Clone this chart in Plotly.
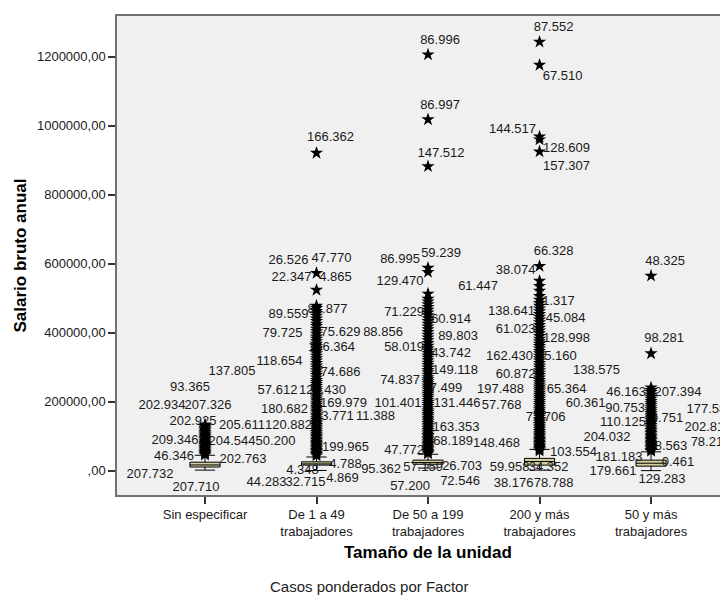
import plotly.graph_objects as go

categories = ["Sin especificar", "De 1 a 49<br>trabajadores", "De 50 a 199<br>trabajadores",
              "200 y más<br>trabajadores", "50 y más<br>trabajadores"]

# box statistics, euros
q1 = [11000, 16500, 19000, 16500, 13500]
median = [17000, 20000, 24000, 27000, 22000]
q3 = [25000, 26000, 31000, 36000, 31000]
lower_whisker = [2000, 1000, 8000, 2000, 500]
upper_whisker = [45000, 40000, 48000, 62000, 55000]

# extreme cases, thousands of euros
extremes_sin = [134, 130, 127, 123, 119, 116, 112, 108, 105, 101, 98, 94, 91, 87, 84, 80, 77, 74,
                70, 67, 64, 61, 58, 55, 52, 49, 46]
extremes_1_49 = [921, 573, 524, 478, 471, 463, 456, 449, 441, 434, 426, 419, 411, 404, 397, 389, 382,
                 375, 368, 361, 354, 347, 340, 333, 326, 319, 312, 305, 298, 291, 284, 277, 270, 263,
                 257, 251, 245, 239, 233, 227, 221, 215, 209, 203, 197, 191, 185, 180, 174, 169, 163,
                 158, 152, 147, 142, 137, 132, 127, 122, 117, 112, 107, 102, 98, 93, 89, 84, 80, 76,
                 72, 68, 64, 60, 56, 52, 48, 44]
extremes_50_199 = [1206, 1018, 882, 588, 576, 513, 498, 490, 482, 474, 466, 458, 450, 442, 434, 426,
                   418, 410, 402, 394, 386, 378, 370, 362, 355, 348, 341, 334, 327, 320, 313, 306,
                   299, 292, 285, 278, 271, 265, 259, 253, 247, 241, 235, 229, 223, 217, 211, 205,
                   199, 193, 187, 181, 175, 170, 164, 159, 153, 148, 143, 138, 133, 128, 123, 118,
                   113, 108, 103, 99, 94, 90, 85, 81, 77, 73, 69, 65, 61, 57, 53, 50]
extremes_200 = [1243, 1176, 968, 960, 925, 593, 550, 535, 521, 506, 495, 486, 478, 470, 462, 454,
                446, 438, 430, 422, 414, 406, 398, 390, 382, 375, 368, 361, 354, 347, 340, 333, 326,
                319, 312, 305, 298, 291, 284, 277, 270, 263, 256, 250, 244, 238, 232, 226, 220, 214,
                208, 202, 196, 190, 184, 178, 172, 167, 161, 156, 150, 145, 140, 135, 130, 125, 120,
                115, 110, 105, 101, 96, 92, 88, 84, 80, 76, 72, 69, 66, 62, 58]
extremes_50_mas = [565, 340, 241, 234, 228, 221, 214, 208, 202, 196, 190, 184, 178, 172, 167, 162,
                   157, 152, 147, 142, 137, 132, 127, 122, 118, 113, 109, 104, 100, 96, 92, 88, 84,
                   80, 76, 72, 68, 64, 60, 57]
extremes = [extremes_sin, extremes_1_49, extremes_50_199, extremes_200, extremes_50_mas]

# case labels: (text, value in thousands of euros, horizontal shift in px from the box)
labels_sin = [("137.805", 288, 27), ("93.365", 242, -15), ("202.934", 190, -43), ("207.326", 190, 3),
              ("202.925", 143, -12), ("205.611", 132, 37), ("209.346", 86, -30), ("204.544", 83, 27),
              ("46.346", 40, -31), ("202.763", 31, 38), ("207.732", -12, -55), ("207.710", -50, -9)]
labels_1_49 = [("166.362", 966, 14), ("26.526", 608, -28), ("47.770", 614, 15), ("22.347", 559, -25),
               ("4.865", 559, 19), ("88.877", 467, 11), ("89.559", 452, -28), ("79.725", 397, -34),
               ("75.629", 400, 24), ("166.364", 357, 15), ("118.654", 317, -37), ("74.686", 285, 24),
               ("57.612", 233, -39), ("122.430", 233, 6), ("180.682", 178, -32), ("169.979", 195, 27),
               ("120.882", 132, -28), ("3.771", 158, 21), ("11.388", 158, 59), ("50.200", 83, -41),
               ("199.965", 66, 29), ("4.788", 19, 29), ("4.348", -1, -14), ("44.283", -36, -50),
               ("32.715", -36, -11), ("4.869", -24, 26)]
labels_50_199 = [("86.996", 1246, 12), ("86.997", 1058, 12), ("147.512", 920, 13), ("86.995", 611, -28),
                 ("59.239", 628, 13), ("129.470", 548, -28), ("61.447", 533, 50), ("71.229", 458, -24),
                 ("88.856", 400, -45), ("60.914", 438, 23), ("89.803", 389, 30), ("58.019", 357, -24),
                 ("43.742", 340, 23), ("149.118", 291, 27), ("74.837", 262, -28), ("7.499", 239, 18),
                 ("101.401", 195, -30), ("131.446", 193, 29), ("163.353", 126, 28), ("68.189", 83, 25),
                 ("47.772", 57, -24), ("95.362", 2, -47), ("57.159", 8, -5), ("26.703", 11, 34),
                 ("57.200", -47, -18), ("72.546", -33, 32)]
labels_200 = [("87.552", 1283, 14), ("67.510", 1142, 23), ("144.517", 989, -27), ("128.609", 934, 27),
              ("157.307", 882, 27), ("66.328", 634, 14), ("38.074", 579, -24), ("1.317", 490, 19),
              ("138.641", 461, -28), ("45.084", 441, 26), ("61.023", 409, -24), ("128.998", 383, 27),
              ("162.430", 331, -30), ("5.160", 331, 21), ("138.575", 291, 57), ("60.872", 279, -24),
              ("197.488", 236, -39), ("65.364", 236, 27), ("57.768", 190, -38), ("60.361", 193, 46),
              ("77.706", 155, 6), ("148.468", 77, -43), ("103.554", 51, 34), ("59.958", 8, -30),
              ("34.352", 8, 9), ("38.176", -38, -26), ("78.788", -38, 14)]
labels_50_mas = [("48.325", 605, 14), ("98.281", 383, 13), ("46.163", 227, -25), ("207.394", 227, 27),
                 ("90.753", 181, -26), ("177.587", 178, 59), ("0.751", 152, 16), ("110.125", 138, -28),
                 ("202.817", 126, 57), ("204.032", 97, -44), ("8.563", 71, 20), ("78.211", 80, 59),
                 ("181.183", 37, -32), ("0.461", 22, 27), ("179.661", -4, -38), ("129.283", -27, 11)]
case_labels = [labels_sin, labels_1_49, labels_50_199, labels_200, labels_50_mas]

y_ticks = [0, 200000, 400000, 600000, 800000, 1000000, 1200000]
y_ticktext = [",00", "200000,00", "400000,00", "600000,00", "800000,00", "1000000,00", "1200000,00"]

FONT = "Liberation Sans, Arial, sans-serif"
X_RANGE = [-0.789, 4.69]
PLOT_W, PLOT_H = 611, 481
PX_PER_CAT = PLOT_W / (X_RANGE[1] - X_RANGE[0])

fig = go.Figure()

# labels first so boxes and stars sit on top of them
lx, ly, lt = [], [], []
for i, labs in enumerate(case_labels):
    for txt, val, dx in labs:
        lx.append(i + dx / PX_PER_CAT)
        ly.append(val * 1000)
        lt.append(txt)
fig.add_trace(go.Scatter(x=lx, y=ly, text=lt, mode="text", textposition="middle center",
                         textfont=dict(family=FONT, size=13, color="#1a1a1a"),
                         hoverinfo="skip", showlegend=False, cliponaxis=True))

fig.add_trace(go.Box(x=list(range(len(categories))), q1=q1, median=median, q3=q3,
                     lowerfence=lower_whisker, upperfence=upper_whisker,
                     boxpoints=False, width=0.27, whiskerwidth=0.67,
                     fillcolor="#D4CF9E", line=dict(color="black", width=1), showlegend=False))

for i, vals in enumerate(extremes):
    fig.add_trace(go.Scatter(x=[i] * len(vals), y=[v * 1000 for v in vals], mode="markers",
                             marker=dict(symbol="star", size=10, color="black", line=dict(width=0)),
                             showlegend=False, hoverinfo="y"))

# the page body adds 8px, so the whole figure is laid out 8px up and left
fig.update_layout(
    width=728, height=596,
    margin=dict(l=109, r=8, t=6, b=596 - 6 - PLOT_H),
    paper_bgcolor="white", plot_bgcolor="#F0F0F0",
    font=dict(family=FONT, size=13, color="#1a1a1a"),
    xaxis=dict(range=X_RANGE, tickmode="array", tickvals=list(range(len(categories))),
               ticktext=categories, showgrid=False, zeroline=False,
               showline=True, mirror=True, linecolor="#707070", linewidth=1.5,
               ticks="outside", ticklen=7, tickcolor="#333", tickwidth=1.5,
               tickfont=dict(size=13)),
    yaxis=dict(range=[-70100, 1318000], tickmode="array", tickvals=y_ticks, ticktext=y_ticktext,
               showgrid=False, zeroline=False, showline=True, linecolor="#707070", linewidth=1.5,
               ticks="outside", ticklen=7, tickcolor="#333", tickwidth=1.5,
               tickfont=dict(size=13)),
    annotations=[
        dict(text="<b>Salario bruto anual</b>", xref="paper", yref="paper", x=(20 - 117) / PLOT_W,
             y=0.5, textangle=-90, showarrow=False, font=dict(size=17, color="black"),
             xanchor="center", yanchor="middle"),
        dict(text="<b>Tamaño de la unidad</b>", xref="paper", yref="paper", x=(428 - 117) / PLOT_W,
             y=(495 - 553) / PLOT_H, showarrow=False, font=dict(size=17, color="black"),
             xanchor="center", yanchor="middle"),
        dict(text="Casos ponderados por Factor", xref="paper", yref="paper", x=(369 - 117) / PLOT_W,
             y=(495 - 587) / PLOT_H, showarrow=False, font=dict(size=15, color="#222"),
             xanchor="center", yanchor="middle"),
    ],
)

fig.write_html("out.html")
